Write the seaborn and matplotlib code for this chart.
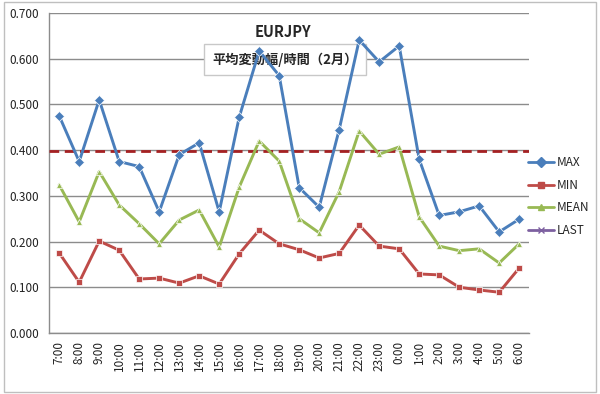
import matplotlib
matplotlib.use("Agg")
import matplotlib.pyplot as plt
from matplotlib.lines import Line2D
import seaborn as sns
import pandas as pd

hours = ["7:00", "8:00", "9:00", "10:00", "11:00", "12:00", "13:00", "14:00",
         "15:00", "16:00", "17:00", "18:00", "19:00", "20:00", "21:00", "22:00",
         "23:00", "0:00", "1:00", "2:00", "3:00", "4:00", "5:00", "6:00"]
max_vals = [0.475, 0.375, 0.510, 0.375, 0.364, 0.265, 0.390, 0.416,
            0.265, 0.472, 0.617, 0.563, 0.318, 0.275, 0.445, 0.641,
            0.593, 0.628, 0.380, 0.257, 0.265, 0.278, 0.221, 0.249]
min_vals = [0.175, 0.111, 0.201, 0.181, 0.118, 0.120, 0.109, 0.125,
            0.107, 0.173, 0.225, 0.195, 0.182, 0.164, 0.174, 0.236,
            0.190, 0.184, 0.129, 0.127, 0.100, 0.094, 0.089, 0.142]
mean_vals = [0.324, 0.243, 0.353, 0.280, 0.239, 0.195, 0.247, 0.269,
             0.188, 0.319, 0.420, 0.376, 0.250, 0.219, 0.309, 0.442,
             0.391, 0.407, 0.254, 0.190, 0.180, 0.184, 0.153, 0.195]
avg_line = 0.397

colors = {"MAX": "#4A7EBB", "MIN": "#BE4B48", "MEAN": "#98B954", "LAST": "#7D60A0"}
markers = {"MAX": "D", "MIN": "s", "MEAN": "^"}

sns.set_style("white")
plt.rcParams["font.family"] = ["Noto Sans CJK JP", "DejaVu Sans"]

df = pd.DataFrame({
    "pos": list(range(len(hours))) * 3,
    "value": max_vals + min_vals + mean_vals,
    "series": ["MAX"] * len(hours) + ["MIN"] * len(hours) + ["MEAN"] * len(hours),
})

fig = plt.figure(figsize=(6, 3.94), dpi=100)
ax = fig.add_axes([0.082, 0.155, 0.800, 0.812])

# outer chart border
fig.patches.append(plt.Rectangle((0.006, 0.006), 0.988, 0.988, transform=fig.transFigure,
                                 fill=False, edgecolor="#bfbfbf", linewidth=1))

sns.lineplot(data=df, x="pos", y="value", hue="series", style="series",
             palette=colors, markers=markers, dashes=False, linewidth=2.1,
             markersize=5, markeredgewidth=0.5, ax=ax, legend=False, zorder=4)

ax.axhline(avg_line, color="#A52123", linestyle=(0, (3.5, 2)), linewidth=2, zorder=3)

ax.set_xlim(-0.5, len(hours) - 0.5)
ax.set_ylim(0, 0.7)
ax.set_yticks([i / 10 for i in range(8)])
ax.set_yticklabels([f"{i / 10:.3f}" for i in range(8)], fontsize=8.5, color="#222222")
ax.set_xticks(range(len(hours)))
ax.set_xticklabels(hours, rotation=90, fontsize=8.5, color="#222222")
ax.set_xticks([i - 0.5 for i in range(len(hours) + 1)], minor=True)
ax.tick_params(axis="x", which="major", length=0, pad=6)
ax.tick_params(axis="x", which="minor", length=4, direction="out", color="#8c8c8c")
ax.tick_params(axis="y", length=4, direction="out", color="#8c8c8c", pad=3)
ax.set_xlabel("")
ax.set_ylabel("")

ax.grid(axis="y", color="#8c8c8c", linewidth=1)
ax.set_axisbelow(True)
for side in ["top", "right"]:
    ax.spines[side].set_visible(False)
for side in ["left", "bottom"]:
    ax.spines[side].set_color("#8c8c8c")
    ax.spines[side].set_linewidth(1)

# titles
fig.text(0.472, 0.919, "EURJPY", ha="center", va="center", fontsize=10.5, fontweight="bold")
ax.text(0.475, 0.849, "平均変動幅/時間（2月）", ha="center", va="center", fontsize=9.5,
        fontweight="bold", zorder=2, transform=fig.transFigure,
        bbox=dict(boxstyle="square,pad=0.6", facecolor="white", edgecolor="#c8c8c8"))

handles = [
    Line2D([], [], color=colors["MAX"], marker="D", markersize=5, linewidth=2),
    Line2D([], [], color=colors["MIN"], marker="s", markersize=5, linewidth=2),
    Line2D([], [], color=colors["MEAN"], marker="^", markersize=5, linewidth=2),
    Line2D([], [], color=colors["LAST"], marker="x", markersize=5, linewidth=2),
]
fig.legend(handles, ["MAX", "MIN", "MEAN", "LAST"], loc="center left",
           bbox_to_anchor=(0.863, 0.501), frameon=False, fontsize=8.5,
           handlelength=2.2, handletextpad=0.2, labelspacing=0.8)

fig.savefig("out.png", dpi=100)
